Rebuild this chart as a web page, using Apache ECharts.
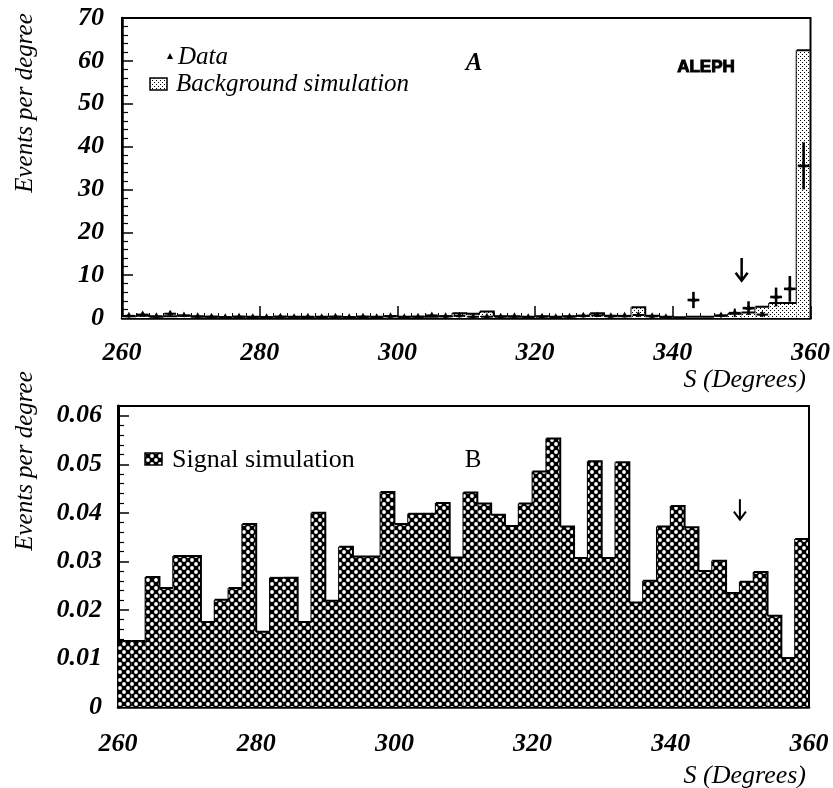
<!DOCTYPE html>
<html><head><meta charset="utf-8">
<script src="https://cdn.jsdelivr.net/npm/echarts/dist/echarts.min.js"></script>
<style>html,body{margin:0;padding:0;background:#fff}#c{width:833px;height:788px}</style>
</head><body><div id="c"></div>
<script>
// ---------- data ----------
const binStart = 260, binWidth = 2;
const xTickLabels = [260, 280, 300, 320, 340, 360];
// Panel A: background simulation (events per degree, 2-degree bins 260..360)
const bgSim = [0.4,0.5,0.3,0.4,0.5,0.3,0.3,0.2,0.3,0.3,
               0.2,0.3,0.3,0.2,0.3,0.3,0.2,0.3,0.3,0.4,
               0.3,0.3,0.3,0.4,1.1,1.0,1.5,0.4,0.3,0.3,
               0.4,0.3,0.4,0.5,1.1,0.5,0.4,2.5,0.5,0.3,
               0.2,0.3,0.3,0.5,1.0,1.3,2.6,3.5,3.5,62.5];
// Panel A: data points and their errors
const dataVals = [0.5,0.8,0.4,1.0,0.6,0.4,0.3,0.2,0.3,0.2,
                  0.2,0.3,0.2,0.3,0.2,0.3,0.2,0.3,0.2,0.4,
                  0.2,0.3,0.6,0.4,0.5,0.3,0.3,0.3,0.4,0.2,
                  0.3,0.2,0.3,0.5,0.6,0.4,0.5,0.7,0.4,0.2,
                  0,4.2,0,0.6,1.2,2.3,0.8,4.9,6.8,35.5];
const dataErr = [0.4,0.5,0.3,0.6,0.4,0.3,0.3,0.2,0.3,0.2,
                 0.2,0.3,0.2,0.3,0.2,0.3,0.2,0.3,0.2,0.3,
                 0.2,0.3,0.4,0.3,0.4,0.3,0.3,0.3,0.3,0.2,
                 0.3,0.2,0.3,0.4,0.4,0.3,0.4,0.5,0.3,0.2,
                 0,1.9,0,0.5,1.0,1.6,0.6,2.2,3.0,5.5];
// Panel B: signal simulation
const signalSim = [0.0136,0.0136,0.0268,0.0245,0.0311,0.0311,0.0175,0.0221,0.0245,0.0377,
                   0.0155,0.0266,0.0266,0.0175,0.0400,0.0219,0.0330,0.0310,0.0310,0.0443,
                   0.0377,0.0398,0.0398,0.0420,0.0308,0.0442,0.0419,0.0396,0.0373,0.0419,
                   0.0485,0.0553,0.0372,0.0307,0.0506,0.0307,0.0504,0.0215,0.0260,0.0372,
                   0.0414,0.0370,0.0280,0.0301,0.0235,0.0258,0.0278,0.0188,0.0101,0.0346];
// cut arrows [x, from, to]
const arrowA = [350, 14, 8.7];
const arrowB = [350, 0.0428, 0.0386];

// ---------- patterns ----------
function crossPattern(){
  const c = document.createElement('canvas'); c.width = 8; c.height = 8;
  const g = c.getContext('2d');
  g.fillStyle = '#000'; g.fillRect(0,0,8,8);
  g.fillStyle = '#fff';
  [[4,4],[0,0],[8,0],[0,8],[8,8]].forEach(p=>{g.beginPath();g.arc(p[0],p[1],1.9,0,Math.PI*2);g.fill();});
  return c;
}
function stipplePattern(){
  const c = document.createElement('canvas'); c.width = 4; c.height = 4;
  const g = c.getContext('2d');
  g.fillStyle = '#fff'; g.fillRect(0,0,4,4);
  g.fillStyle = '#000'; g.fillRect(0,0,1,1); g.fillRect(2,2,1,1);
  return c;
}
const crossFill = {image: crossPattern(), repeat: 'repeat'};
const stippleFill = {image: stipplePattern(), repeat: 'repeat'};

function histData(vals){
  return vals.map((v,i)=>[binStart+i*binWidth, binStart+(i+1)*binWidth, v, i+1<vals.length ? vals[i+1] : 0]);
}
function histRender(fill, lw){
  return function(params, api){
    const lo = api.value(0), hi = api.value(1), v = api.value(2), vn = api.value(3);
    const p0 = api.coord([lo, 0]), p1 = api.coord([hi, v]), pn = api.coord([hi, vn]);
    return {type:'group', children:[
      {type:'rect', shape:{x:p0[0], y:p1[1], width:p1[0]-p0[0], height:p0[1]-p1[1]}, style:{fill:fill}},
      {type:'polyline', shape:{points:[[p0[0],p1[1]],[p1[0],p1[1]],[pn[0],pn[1]]]}, style:{stroke:'#000', lineWidth:lw, fill:null}}
    ]};
  };
}
function dataRender(params, api){
  const lo = api.value(0), hi = api.value(1), v = api.value(2), e = api.value(3);
  const mid = (lo+hi)/2;
  const a = api.coord([lo, v]), b = api.coord([hi, v]);
  const t = api.coord([mid, v+e]), d = api.coord([mid, Math.max(0, v-e)]);
  const c = api.coord([mid, v]);
  const w = v > 1.5 ? 2.6 : 2;
  return {type:'group', children:[
    {type:'line', shape:{x1:a[0]+1, y1:a[1], x2:b[0]-1, y2:b[1]}, style:{stroke:'#000', lineWidth:w}},
    {type:'line', shape:{x1:t[0], y1:t[1], x2:d[0], y2:d[1]}, style:{stroke:'#000', lineWidth:w}},
    {type:'polygon', shape:{points:[[c[0],c[1]-4],[c[0]-3,c[1]+1.5],[c[0]+3,c[1]+1.5]]}, style:{fill:'#000'}}
  ]};
}
function arrowRender(lw, hw, hh){
  return function(params, api){
    const s = api.coord([api.value(0), api.value(1)]), e = api.coord([api.value(0), api.value(2)]);
    return {type:'group', children:[
      {type:'line', shape:{x1:s[0], y1:s[1], x2:e[0], y2:e[1]}, style:{stroke:'#000', lineWidth:lw}},
      {type:'polyline', shape:{points:[[e[0]-hw, e[1]-hh],[e[0], e[1]],[e[0]+hw, e[1]-hh]]}, style:{stroke:'#000', lineWidth:lw, fill:null}}
    ]};
  };
}

const serif = 'Liberation Serif';
const tickLabel = {fontFamily: serif, fontStyle:'italic', fontWeight:'bold', fontSize:26, color:'#000'};

function xAxisCfg(gi, margin){
  return {gridIndex:gi, type:'value', min:xTickLabels[0], max:xTickLabels[xTickLabels.length-1], interval:20,
    axisLine:{show:true, onZero:false, lineStyle:{color:'#000', width:2.5}},
    axisTick:{show:true, inside:true, length:12, lineStyle:{color:'#000', width:1.5}},
    minorTick:{show:true, splitNumber:10, length:5, lineStyle:{color:'#000', width:1}},
    splitLine:{show:false},
    axisLabel:Object.assign({margin:margin}, tickLabel)};
}

const option = {
  animation:false,
  backgroundColor:'#fff',
  grid:[
    {left:122, right:20, top:18, height:300, show:true, borderColor:'#000', borderWidth:2},
    {left:118, right:24, top:406, height:301, show:true, borderColor:'#000', borderWidth:2}
  ],
  xAxis:[xAxisCfg(0, 22), xAxisCfg(1, 24)],
  yAxis:[
    {gridIndex:0, type:'value', min:0, max:70, interval:10,
     axisLine:{show:true, lineStyle:{color:'#000', width:2.5}},
     axisTick:{show:true, inside:true, length:11, lineStyle:{color:'#000', width:1.5}},
     minorTick:{show:true, splitNumber:5, length:6, lineStyle:{color:'#000', width:1.2}},
     splitLine:{show:false},
     axisLabel:Object.assign({margin:18}, tickLabel)},
    {gridIndex:1, type:'value', min:0, max:0.062, interval:0.01,
     axisLine:{show:true, lineStyle:{color:'#000', width:3}},
     axisTick:{show:true, inside:true, length:11, lineStyle:{color:'#000', width:1.5}},
     minorTick:{show:true, splitNumber:5, length:6, lineStyle:{color:'#000', width:1.2}},
     splitLine:{show:false},
     axisLabel:Object.assign({margin:16, showMaxLabel:false, formatter:v=> v===0 ? '0' : v.toFixed(2)}, tickLabel)}
  ],
  series:[
    {type:'custom', name:'Background simulation', xAxisIndex:0, yAxisIndex:0, renderItem:histRender(stippleFill, 2),
     encode:{x:[0,1], y:2}, data:histData(bgSim), clip:true, silent:true},
    {type:'custom', name:'Data', xAxisIndex:0, yAxisIndex:0, renderItem:dataRender,
     encode:{x:[0,1], y:2}, data:dataVals.map((v,i)=>[binStart+i*binWidth, binStart+(i+1)*binWidth, v, dataErr[i]]).filter(d=>d[2]>0), clip:true, silent:true},
    {type:'custom', name:'arrowA', xAxisIndex:0, yAxisIndex:0, renderItem:arrowRender(2.5, 6, 8), encode:{x:0, y:[1,2]}, data:[arrowA], silent:true},
    {type:'custom', name:'Signal simulation', xAxisIndex:1, yAxisIndex:1, renderItem:histRender(crossFill, 2),
     encode:{x:[0,1], y:2}, data:histData(signalSim), clip:true, silent:true},
    {type:'custom', name:'arrowB', xAxisIndex:1, yAxisIndex:1, renderItem:arrowRender(2, 6, 8), encode:{x:0, y:[1,2]}, data:[arrowB], silent:true}
  ],
  graphic:[
    {type:'text', x:25, y:103, rotation:Math.PI/2, style:{text:'Events per degree', fontFamily:serif, fontStyle:'italic', fontSize:25, fill:'#000', align:'center', verticalAlign:'middle'}},
    {type:'text', x:25, y:461, rotation:Math.PI/2, style:{text:'Events per degree', fontFamily:serif, fontStyle:'italic', fontSize:25, fill:'#000', align:'center', verticalAlign:'middle'}},
    {type:'text', x:806, y:380, style:{text:'S (Degrees)', fontFamily:serif, fontStyle:'italic', fontSize:26, fill:'#000', align:'right', verticalAlign:'middle'}},
    {type:'text', x:806, y:776, style:{text:'S (Degrees)', fontFamily:serif, fontStyle:'italic', fontSize:26, fill:'#000', align:'right', verticalAlign:'middle'}},
    {type:'polygon', shape:{points:[[170,53],[167,59],[173,59]]}, style:{fill:'#000'}},
    {type:'text', x:178, y:57, style:{text:'Data', fontFamily:serif, fontStyle:'italic', fontSize:25, fill:'#000', align:'left', verticalAlign:'middle'}},
    {type:'rect', shape:{x:150, y:78, width:17, height:12}, style:{fill:stippleFill, stroke:'#000', lineWidth:1.5}},
    {type:'text', x:176, y:84, style:{text:'Background simulation', fontFamily:serif, fontStyle:'italic', fontSize:25, fill:'#000', align:'left', verticalAlign:'middle'}},
    {type:'text', x:474, y:64, style:{text:'A', fontFamily:serif, fontStyle:'italic', fontWeight:'bold', fontSize:25, fill:'#000', align:'center', verticalAlign:'middle'}},
    {type:'text', x:706, y:67, style:{text:'ALEPH', fontFamily:'Liberation Sans', fontWeight:'bold', fontSize:17, fill:'#000', stroke:'#000', lineWidth:1, align:'center', verticalAlign:'middle'}},
    {type:'rect', shape:{x:145, y:453, width:17, height:12}, style:{fill:crossFill, stroke:'#000', lineWidth:1.5}},
    {type:'text', x:172, y:460, style:{text:'Signal simulation', fontFamily:serif, fontSize:26, fill:'#000', align:'left', verticalAlign:'middle'}},
    {type:'text', x:473, y:460, style:{text:'B', fontFamily:serif, fontSize:25, fill:'#000', align:'center', verticalAlign:'middle'}}
  ]
};
const chart = echarts.init(document.getElementById('c'));
chart.setOption(option);
</script>
</body></html>
